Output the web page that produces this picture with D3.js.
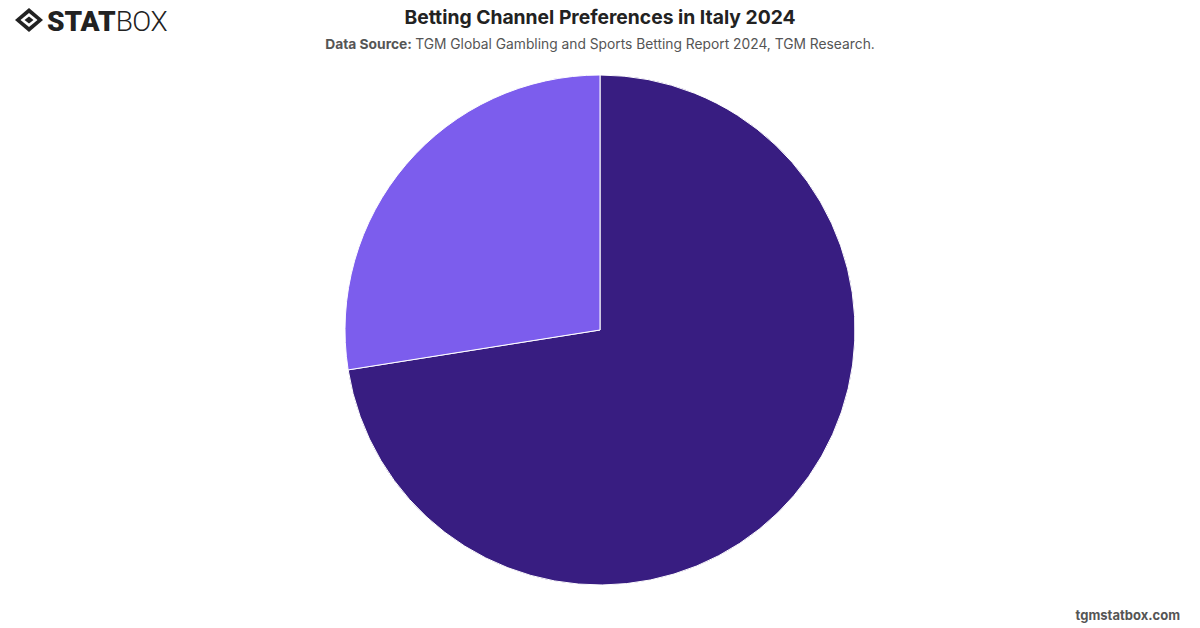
<!DOCTYPE html>
<html>
<head>
<meta charset="utf-8">
<script src="https://cdn.jsdelivr.net/npm/d3@7"></script>
<style>
  body { margin: 0; background: #fff; }
  svg { display: block; font-family: Inter, Roboto, "Liberation Sans", sans-serif; }
</style>
</head>
<body>
<div id="chart"></div>
<script>
const categories = ["Online", "Offline"];
const shares = [72.5, 27.5];
const colors = ["#381d81", "#7c5ded"];

const width = 1200, height = 628;
const cx = 600, cy = 330, radius = 255;

const svg = d3.select("#chart").append("svg")
  .attr("width", width)
  .attr("height", height);

// logo
const logo = svg.append("g").attr("transform", "translate(16,8)");
logo.append("path")
  .attr("d", "M13,0 L27,12 L13,24 L-1,12 Z")
  .attr("fill", "#222");
logo.append("path")
  .attr("d", "M13,5 L21.5,12 L13,19 L4.5,12 Z")
  .attr("fill", "#fff");
logo.append("path")
  .attr("d", "M13,8.5 L17.5,12 L13,15.5 L8.5,12 Z")
  .attr("fill", "#222");
logo.append("text")
  .attr("x", 31)
  .attr("y", 23)
  .attr("font-family", "Roboto, sans-serif")
  .attr("font-size", 28)
  .attr("font-weight", 900)
  .attr("fill", "#222")
  .text("STAT")
  .append("tspan")
  .attr("font-weight", 300)
  .attr("letter-spacing", -0.5)
  .text("BOX");

// title
svg.append("text")
  .attr("x", width / 2)
  .attr("y", 24)
  .attr("text-anchor", "middle")
  .attr("font-size", 19.3)
  .attr("font-weight", 700)
  .attr("fill", "#222")
  .text("Betting Channel Preferences in Italy 2024");

const sub = svg.append("text")
  .attr("x", width / 2)
  .attr("y", 49)
  .attr("text-anchor", "middle")
  .attr("font-size", 13.8)
  .attr("fill", "#555");
sub.append("tspan").attr("font-weight", 700).text("Data Source: ");
sub.append("tspan").text("TGM Global Gambling and Sports Betting Report 2024, TGM Research.");

// pie
const data = categories.map((c, i) => ({ name: c, value: shares[i] }));
const pie = d3.pie().sort(null).value(d => d.value);
const arc = d3.arc().innerRadius(0).outerRadius(radius);

svg.append("g")
  .attr("transform", `translate(${cx},${cy})`)
  .selectAll("path")
  .data(pie(data))
  .join("path")
  .attr("d", arc)
  .attr("fill", (d, i) => colors[i])
  .attr("stroke", "#fff")
  .attr("stroke-width", 1);

// footer
svg.append("text")
  .attr("x", 1180)
  .attr("y", 620)
  .attr("text-anchor", "end")
  .attr("font-size", 13)
  .attr("font-weight", 700)
  .attr("fill", "#555")
  .text("tgmstatbox.com");
</script>
</body>
</html>
